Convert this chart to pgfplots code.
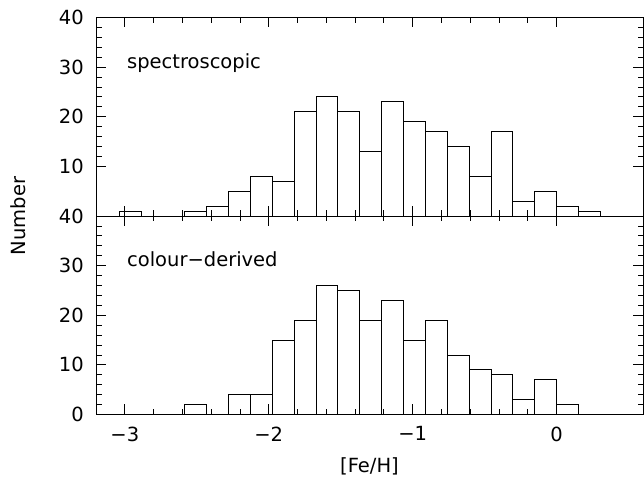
\documentclass[border=0pt]{standalone}
\usepackage{fontspec}
\setmainfont{DejaVu Sans}
\usepackage{pgfplots}
\pgfplotsset{compat=1.18}
\newcommand{\lblfont}{\fontsize{19.5}{23}\selectfont}
\begin{document}
\begin{tikzpicture}
\pgfplotsset{
  panel/.style={
    scale only axis,
    width=547pt, height=198.5pt,
    xmin=-3.2, xmax=0.6,
    ymin=0, ymax=40,
    axis line style={line width=0.8pt},
    tick style={line width=0.8pt, black},
    tick align=inside,
    xtick pos=both, ytick pos=both,
    xtick={-3,-2,-1,0},
    minor x tick num=4,
    minor y tick num=4,
    major tick length=10pt,
    minor tick length=5.5pt,
    /pgf/number format/assume math mode=true,
    tick label style={font=\lblfont},
    yticklabel style={xshift=-8.8pt},
  },
}
\begin{axis}[panel, at={(0,0)}, anchor=south west,
  ytick={0,10,20,30,40},
  xticklabels={−3,−2,−1,0},
  xticklabel style={yshift=-8.5pt},
]
\addplot[ybar interval, draw=black, fill=none, line width=0.8pt] coordinates {
(-3.04,0) (-2.888,0) (-2.736,0) (-2.584,2) (-2.432,0) (-2.28,4) (-2.128,4)
(-1.976,15) (-1.824,19) (-1.672,26) (-1.52,25) (-1.368,19) (-1.216,23)
(-1.064,15) (-0.912,19) (-0.76,12) (-0.608,9) (-0.456,8) (-0.304,3)
(-0.152,7) (0.0,2) (0.152,0) (0.304,0)
};
\node[anchor=base west, inner sep=0pt, font=\lblfont] at (axis cs:-2.985,29.8) {colour−derived};
\end{axis}
\begin{axis}[panel, at={(0,198.5pt)}, anchor=south west,
  ytick={10,20,30,40},
  xticklabels={},
]
\addplot[ybar interval, draw=black, fill=none, line width=0.8pt] coordinates {
(-3.04,1) (-2.888,0) (-2.736,0) (-2.584,1) (-2.432,2) (-2.28,5) (-2.128,8)
(-1.976,7) (-1.824,21) (-1.672,24) (-1.52,21) (-1.368,13) (-1.216,23)
(-1.064,19) (-0.912,17) (-0.76,14) (-0.608,8) (-0.456,17) (-0.304,3)
(-0.152,5) (0.0,2) (0.152,1) (0.304,0)
};
\node[anchor=base west, inner sep=0pt, font=\lblfont] at (axis cs:-2.985,29.8) {spectroscopic};
\end{axis}
\node[rotate=90, font=\lblfont] at (-78pt,198.5pt) {Number};
\node[font=\lblfont] at (273.5pt,-52pt) {[Fe/H]};
\pgfresetboundingbox
\path[use as bounding box] (-96pt,-74.3pt) rectangle (548pt,414.5pt);
\end{tikzpicture}
\end{document}
